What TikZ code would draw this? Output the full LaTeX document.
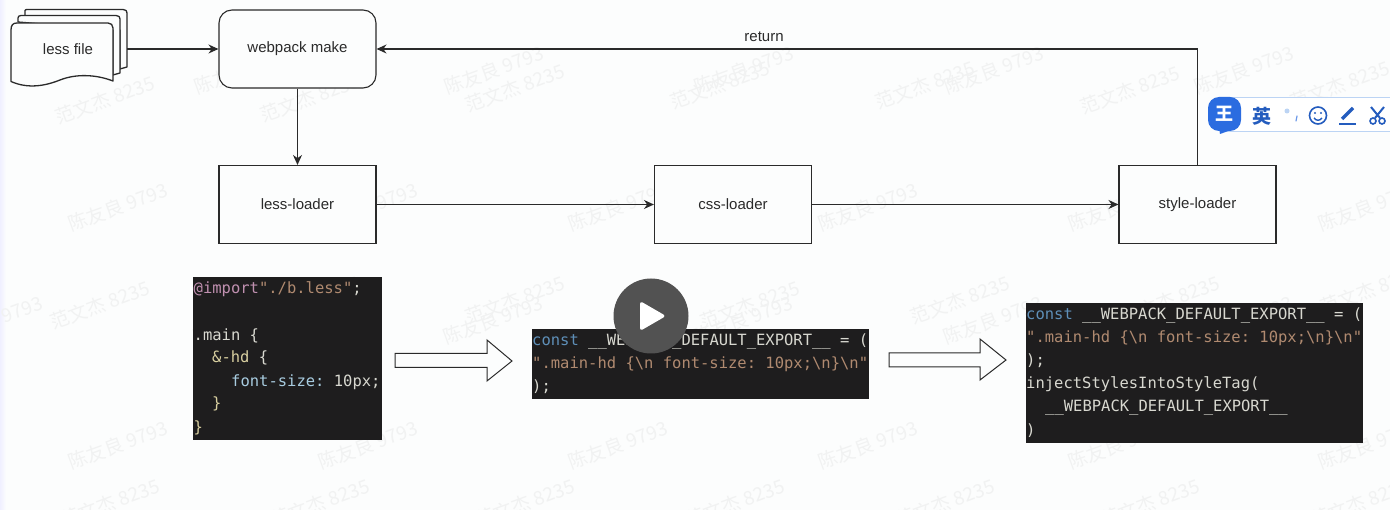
\documentclass[tikz,border=0pt]{standalone}
\usepackage{fontspec}
\setmainfont{Liberation Sans}
\setmonofont{DejaVu Sans Mono}
\newfontfamily\cjkf{Noto Sans CJK SC}
\usetikzlibrary{arrows.meta}
\definecolor{pagebg}{HTML}{FCFDFD}
\definecolor{ink}{HTML}{2A2A2A}
\definecolor{wm}{HTML}{F1F2F2}
\definecolor{codebg}{HTML}{1E1D1E}
\definecolor{cwhite}{HTML}{D8D8D0}
\definecolor{cblue}{HTML}{5E8FB8}
\definecolor{cstr}{HTML}{B08A70}
\definecolor{cpink}{HTML}{C090B0}
\definecolor{cyel}{HTML}{D8CFA0}
\definecolor{clight}{HTML}{A8CCE0}
\definecolor{imeblue}{HTML}{2B6CE0}
\definecolor{imepale}{HTML}{BCD4F4}
\newcommand{\bsl}{\textbackslash}
\tikzset{
  x=1pt,y=-1pt,
  flow/.style={draw=ink,line width=1.1pt,-{Stealth[length=10pt,width=9pt]}},
  procbox/.style={draw=ink,line width=1.1pt,fill=pagebg,minimum width=157pt,minimum height=78pt,inner sep=0pt,font=\fontsize{15}{18}\selectfont,text=ink},
  sheet/.style={draw=ink,line width=1.3pt,fill=pagebg,line join=round},
  hollow/.style={draw=ink,line width=1pt,fill=pagebg,line join=miter},
  codeblock/.style={fill=codebg,draw=none},
  code/.style={anchor=west,inner sep=0pt,font=\ttfamily\fontsize{15.5}{18}\selectfont,text=cwhite},
  mark9793/.style={rotate=20,text=wm,inner sep=0pt,font=\cjkf\fontsize{19}{22}\selectfont},
}
\begin{document}
\begin{tikzpicture}
\useasboundingbox (0,0) rectangle (1390,510);
\fill[pagebg] (0,0) rectangle (1390,510);
\shade[left color=blue!6!white,right color=pagebg] (0,0) rectangle (6,510);
% watermarks
\foreach \px in {244,494,744,994,1244} \node[mark9793] (wa\px) at (\px,70) {陈友良 9793};
\foreach \px in {118,368,618,868,1118,1368} \node[mark9793] (wb\px) at (\px,207) {陈友良 9793};
\foreach \px in {243,493,743,993,1243} \node[mark9793] (wc\px) at (\px,320) {陈友良 9793};
\node[mark9793] (wc0) at (-7,320) {陈友良 9793};
\foreach \px in {118,368,618,868,1118,1368} \node[mark9793] (wd\px) at (\px,445) {陈友良 9793};
\foreach \px/\py in {105/100,310/98,515/88,720/85,925/85,1130/90,1340/85} \node[mark9793] (xa\px) at (\px,\py) {范文杰 8235};
\foreach \px/\py in {100/305,310/300,515/300,750/305,960/300,1170/300,1370/290} \node[mark9793] (xb\px) at (\px,\py) {范文杰 8235};
\foreach \px in {110,320,525,735,945,1150,1360} \node[mark9793] (xc\px) at (\px,503) {范文杰 8235};
% document stack
\draw[sheet] (25,16) -- (25,10.5) .. controls (25,10) and (26,9.5) .. (27,9.5) -- (123,9.5) .. controls (126,9.5) and (127,11) .. (127,13) -- (127,67) -- (120,69) -- (120,30) -- cycle;
\draw[sheet] (18,22) -- (18,18) .. controls (18,16.5) and (19,15.5) .. (21,15.5) -- (116,15.5) .. controls (119,15.5) and (120,17) .. (120,19) -- (120,73) -- (113,75) -- (113,30) -- cycle;
\draw[sheet] (11,30) .. controls (11,25) and (13,23) .. (17,23) -- (108,23) .. controls (111,23) and (113,25) .. (113,28) -- (113,81)
  .. controls (95,74) and (75,74) .. (60,80) .. controls (45,86) and (28,89) .. (11,81.5) -- cycle;
\node[inner sep=0pt,font=\fontsize{15}{18}\selectfont,text=ink] (file) at (68,49) {less file};
\coordinate (fileout) at (127,49);
% process nodes
\node[procbox,rounded corners=13pt] (make) at (297.5,49) {webpack make};
\node[procbox] (less) at (297.5,204.5) {less-loader};
\node[procbox] (css) at (733,204.5) {css-loader};
\node[procbox] (style) at (1197.5,204.5) {style-loader};
\draw[flow] (fileout) -- (make.west);
\draw[flow] (make) -- (less);
\draw[flow] (less) -- (css);
\draw[flow] (css) -- (style);
\draw[flow] (style.north) |- (make.east);
\node[inner sep=0pt,font=\fontsize{15}{18}\selectfont,text=ink] (ret) at (764,37) {return};
% block 1
\fill[codeblock] (193,277) rectangle (382,440);
\node[code,text=cpink] (a1) at (193.5,289) {@import\textcolor{cstr}{ "./b.less"}\textcolor{cwhite}{;}};
\node[code,text=cwhite] (a2) at (193.5,336) {.main \{};
\node[code,text=cyel] (a3) at (212,358) {\&-hd \textcolor{cwhite}{\{}};
\node[code,text=clight] (a4) at (231,382) {font-size: \textcolor{cwhite}{10px;}};
\node[code,text=cyel] (a5) at (212,404) {\}};
\node[code,text=cyel] (a6) at (193.5,428) {\}};
% block 2
\fill[codeblock] (532,329) rectangle (869,399);
\node[code,text=cblue] (b1) at (532,341) {const \textcolor{cwhite}{\_\_WEBPACK\_DEFAULT\_EXPORT\_\_ = (}};
\node[code,text=cstr] (b2) at (532,364) {".main-hd \{\bsl n font-size: 10px;\bsl n\}\bsl n"};
\node[code] (b3) at (532,387) {);};
% block 3
\fill[codeblock] (1026,303) rectangle (1363,443);
\node[code,text=cblue] (c1) at (1026,315) {const \textcolor{cwhite}{\_\_WEBPACK\_DEFAULT\_EXPORT\_\_ = (}};
\node[code,text=cstr] (c2) at (1026,338) {".main-hd \{\bsl n font-size: 10px;\bsl n\}\bsl n"};
\node[code] (c3) at (1026,361) {);};
\node[code] (c4) at (1026,384) {injectStylesIntoStyleTag(};
\node[code] (c5) at (1045,408) {\_\_WEBPACK\_DEFAULT\_EXPORT\_\_};
\node[code] (c6) at (1026,431) {)};
% hollow arrows
\draw[hollow] (395,353.5) -- (487,353.5) -- (487,340) -- (512,361) -- (487,381) -- (487,367.5) -- (395,367.5) -- cycle;
\draw[hollow] (889,353) -- (980,353) -- (980,339) -- (1006,360) -- (980,380) -- (980,367) -- (889,367) -- cycle;
% play button
\fill[black!68] (651,316) circle (37.5);
\fill[white,rounded corners=3pt] (640,301) -- (666,316) -- (640,331) -- cycle;
% IME toolbar
\fill[white] (1225,98) rectangle (1390,132);
\draw[imepale,line width=1pt] (1225,98) -- (1390,98) (1225,132) -- (1390,132);
\fill[imeblue,rounded corners=11pt] (1208,97) rectangle (1241,131);
\fill[imeblue] (1219,128) -- (1231,130) -- (1220,134) -- cycle;
\node[inner sep=0pt,text=white,font=\cjkf\bfseries\fontsize{18}{20}\selectfont] (ime1) at (1224.5,114) {王};
\node[inner sep=0pt,text=imeblue!85!black,font=\cjkf\bfseries\fontsize{19}{20}\selectfont] (ime2) at (1262,116) {英};
\fill[imepale] (1287,111) circle (2.5);
\draw[imeblue!70,line width=1.2pt,line cap=round] (1297,116) -- (1296,121);
\draw[imeblue!85!black,line width=1.6pt] (1318,115.5) circle (8.5);
\fill[imeblue!85!black] (1315,113) circle (1.2) (1321,113) circle (1.2);
\draw[imeblue!85!black,line width=1.4pt] (1314,118) .. controls (1316,121) and (1320,121) .. (1322,118);
\draw[imeblue!85!black,line width=3.2pt] (1342,119) -- (1353,108);
\draw[imeblue!85!black,line width=1.6pt] (1339,124) -- (1356,124);
\draw[imeblue!85!black,line width=1.6pt] (1373,121) circle (3) (1382,121) circle (3);
\draw[imeblue!85!black,line width=2pt] (1375,118) -- (1384,107) (1380,118) -- (1371,107);
\end{tikzpicture}
\end{document}
